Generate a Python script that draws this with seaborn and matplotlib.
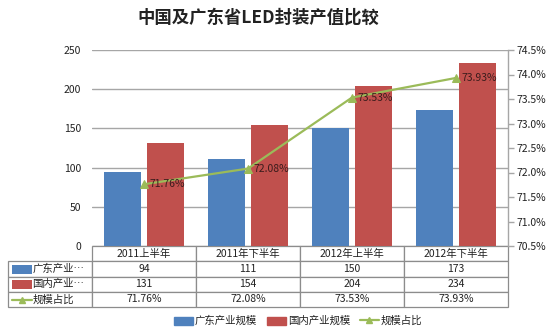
import numpy as np
import pandas as pd
import matplotlib
matplotlib.use("Agg")
import matplotlib.pyplot as plt
import seaborn as sns
from matplotlib.patches import Rectangle
from matplotlib.lines import Line2D
from matplotlib.ticker import FuncFormatter

# Data
periods = ["2011上半年", "2011年下半年", "2012年上半年", "2012年下半年"]
guangdong = [94, 111, 150, 173]
domestic = [131, 154, 204, 234]
share = [71.76, 72.08, 73.53, 73.93]
series_names = ["广东产业规模", "国内产业规模", "规模占比"]
row_labels = ["广东产业…", "国内产业…", "规模占比"]
left_ticks = [0, 50, 100, 150, 200, 250]
right_ticks = [70.5, 71.0, 71.5, 72.0, 72.5, 73.0, 73.5, 74.0, 74.5]
title = "中国及广东省LED封装产值比较"

BLUE = "#4F81BD"
RED = "#C0504D"
GREEN = "#9BBB59"
GRID = "#A6A6A6"

sns.set_style("white")
plt.rcParams["font.family"] = ["Noto Sans CJK SC", "DejaVu Sans"]
plt.rcParams["axes.unicode_minus"] = False

df = pd.DataFrame({
    "period": periods * 2,
    "value": guangdong + domestic,
    "series": [series_names[0]] * len(periods) + [series_names[1]] * len(periods),
})

fig = plt.figure(figsize=(5.53, 3.32), dpi=100)
W, H = 553, 332
ax = fig.add_axes([92 / W, 1 - 246 / H, (508 - 92) / W, (246 - 50) / H])

sns.barplot(data=df, x="period", y="value", hue="series", order=periods,
            hue_order=series_names[:2], palette=[BLUE, RED],
            width=0.83, gap=0.16, saturation=1, ax=ax, legend=False,
            edgecolor="none")

ax.set_xlim(-0.5, len(periods) - 0.5)
ax.set_ylim(left_ticks[0], left_ticks[-1])
ax.set_yticks(left_ticks)
ax.set_xticks([])
ax.set_xlabel("")
ax.set_ylabel("")
ax.yaxis.grid(True, color=GRID, linewidth=1)
ax.set_axisbelow(True)
for s in ["top", "left", "right", "bottom"]:
    ax.spines[s].set_visible(False)
ax.tick_params(axis="y", length=0, pad=8, labelsize=7.5, labelcolor="#222222")

# Share line on the secondary axis
ax2 = ax.twinx()
sns.lineplot(x=np.arange(len(periods)), y=share, ax=ax2, color=GREEN,
             linewidth=1.6, marker="^", markersize=6, markeredgecolor=GREEN,
             markerfacecolor=GREEN)
ax2.set_ylim(right_ticks[0], right_ticks[-1])
ax2.set_yticks(right_ticks)
ax2.yaxis.set_major_formatter(FuncFormatter(lambda v, p: f"{v:.1f}%"))
ax2.set_xlim(-0.5, len(periods) - 0.5)
for s in ["top", "left", "bottom"]:
    ax2.spines[s].set_visible(False)
ax2.spines["right"].set_color(GRID)
ax2.spines["right"].set_linewidth(1)
ax2.tick_params(axis="y", length=4, width=1, color=GRID, pad=2,
                labelsize=7.5, labelcolor="#222222")
ax2.set_ylabel("")

for i, v in enumerate(share):
    ax2.text(i + 0.05, v, f"{v:.2f}%", ha="left", va="center",
             fontsize=7.5, color="#3a1c1c")

# Data table beneath the plot
cell_text = [[""] + periods]
cell_text.append([row_labels[0]] + [str(v) for v in guangdong])
cell_text.append([row_labels[1]] + [str(v) for v in domestic])
cell_text.append([row_labels[2]] + [f"{v:.2f}%" for v in share])

label_w = 84 / 416
tbl = ax.table(cellText=cell_text, cellLoc="center",
               colWidths=[label_w] + [1 / len(periods)] * len(periods),
               bbox=[-label_w, -61 / 196, 1 + label_w, 61 / 196])
tbl.auto_set_font_size(False)
tbl.set_fontsize(7.5)
for (r, c), cell in tbl.get_celld().items():
    cell.set_edgecolor("#8C8C8C")
    cell.set_linewidth(0.9)
    cell.get_text().set_color("#222222")
    if r == 0 and c == 0:
        cell.visible_edges = ""
    elif c == 0:
        cell.get_text().set_ha("left")
        cell._loc = "left"
        cell.PAD = 0.29

# Legend keys inside the label column
key_ax = fig.add_axes([0, 0, 1, 1], facecolor="none")
key_ax.set_xlim(0, W)
key_ax.set_ylim(H, 0)
key_ax.axis("off")
row_centers = [269, 284.5, 299.5]
key_ax.add_patch(Rectangle((12, row_centers[0] - 4.5), 20, 9, color=BLUE, lw=0))
key_ax.add_patch(Rectangle((12, row_centers[1] - 4.5), 20, 9, color=RED, lw=0))
key_ax.add_line(Line2D([12, 22, 32], [row_centers[2]] * 3, color=GREEN,
                       lw=1.6, marker="^", markevery=[1], markersize=5))

# Bottom legend
handles = [
    Rectangle((0, 0), 1, 1, color=BLUE),
    Rectangle((0, 0), 1, 1, color=RED),
    Line2D([0], [0], color=GREEN, lw=1.6, marker="^", markersize=5),
]
fig.legend(handles, series_names, loc="center", ncol=3, frameon=False,
           bbox_to_anchor=(298 / W, 1 - 321 / H), fontsize=7.5,
           handlelength=1.9, handleheight=0.8, handletextpad=0.15,
           columnspacing=0.9, labelcolor="#222222")

fig.text(258 / W, 1 - 18 / H, title, ha="center", va="center",
         fontsize=12.5, fontweight="bold", color="#222222")

fig.savefig("out.png", dpi=100)
